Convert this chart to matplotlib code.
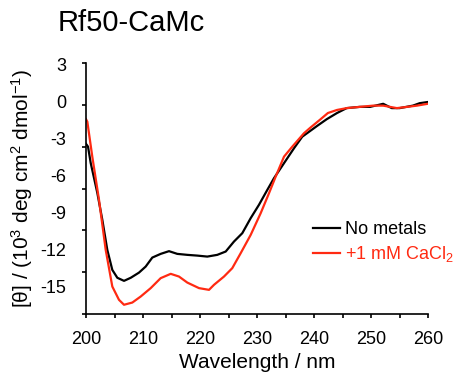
import matplotlib
matplotlib.use("Agg")
import matplotlib.pyplot as plt
import numpy as np
from matplotlib.ticker import FixedLocator, MultipleLocator, NullFormatter

plt.rcParams['font.family'] = ['Liberation Sans', 'DejaVu Sans']
plt.rcParams['mathtext.fontset'] = 'custom'
plt.rcParams['mathtext.rm'] = 'Liberation Sans'
plt.rcParams['mathtext.it'] = 'Liberation Sans'

# data (wavelength in nm, [theta] in 10^3 deg cm2 dmol-1)
wl_none = [200, 200.35, 200.82, 201.98, 202.86, 203.73, 204.61, 205.49, 206.66, 207.84,
           209.29, 210.46, 211.62, 213.09, 214.55, 216.0, 217.76, 219.51, 221.26,
           223.01, 224.49, 225.94, 227.4, 228.87, 230.32, 231.78, 232.95, 234.71,
           236.46, 237.91, 240.5, 242.2, 244, 245.7, 248, 249.8, 252.1, 253.6, 255,
           257.3, 258.5, 260]
th_none = [-3.4, -3.63, -4.95, -7.38, -9.57, -12.0, -13.63, -14.27, -14.52, -14.27,
           -13.85, -13.36, -12.63, -12.33, -12.11, -12.33, -12.41, -12.47, -12.55,
           -12.41, -12.14, -11.33, -10.65, -9.43, -8.35, -7.14, -6.19, -4.97,
           -3.76, -2.82, -1.95, -1.4, -0.9, -0.5, -0.4, -0.4, -0.15, -0.5, -0.5,
           -0.3, -0.1, 0.0]

wl_ca = [200, 200.23, 201.1, 202.28, 203.45, 204.61, 205.78, 206.66, 208.12, 209.59,
         211.34, 213.09, 214.85, 216.3, 217.76, 219.81, 221.56, 222.44, 224.19,
         225.64, 227.12, 228.87, 230.62, 232.08, 233.25, 234.71, 236.16, 238.21,
         239.3, 241, 242.4, 244, 245.7, 248, 250.3, 252.1, 253.3, 254.5, 256.3,
         258, 259.9]
th_ca = [-1.4, -1.6, -4.44, -7.95, -12.0, -14.98, -16.06, -16.46, -16.28, -15.79,
         -15.11, -14.3, -13.95, -14.17, -14.66, -15.11, -15.25, -14.84, -14.17,
         -13.49, -12.27, -10.79, -9.03, -7.41, -6.06, -4.44, -3.63, -2.54,
         -2.1, -1.45, -0.9, -0.65, -0.5, -0.4, -0.3, -0.3, -0.4, -0.5, -0.4,
         -0.3, -0.15]

ytick_vals = [3, 0, -3, -6, -9, -12, -15]
labels = ['No metals', '+1 mM CaCl$_2$']
colors = ['black', '#FF2A12']

fig = plt.figure(figsize=(4.59, 3.78), dpi=100)
ax = fig.add_axes([0.1874, 0.1693, 0.7456, 0.664])

ax.plot(wl_none, th_none, color=colors[0], lw=1.6, label=labels[0])
ax.plot(wl_ca, th_ca, color=colors[1], lw=1.6, label=labels[1])

ymin, ymax = -17.21, 3.16
ax.set_xlim(200, 260)
ax.set_ylim(ymin, ymax)

for s in ['top', 'right']:
    ax.spines[s].set_visible(False)
for s in ['left', 'bottom']:
    ax.spines[s].set_linewidth(1.2)

ax.xaxis.set_major_locator(MultipleLocator(10))
ax.xaxis.set_minor_locator(MultipleLocator(5))
ax.tick_params(axis='x', which='both', direction='out', length=3, width=1.2,
               labelsize=13, pad=9)

# tick marks evenly spaced along the axis, labels as in the original figure
ax.yaxis.set_major_locator(FixedLocator(np.linspace(ymax, ymin, 7)))
ax.yaxis.set_major_formatter(NullFormatter())
ax.yaxis.set_minor_locator(FixedLocator(ytick_vals))
ax.yaxis.set_minor_formatter(plt.FixedFormatter([str(v) for v in ytick_vals]))
ax.tick_params(axis='y', which='major', direction='out', length=3, width=1.2)
ax.tick_params(axis='y', which='minor', length=0, labelsize=13, pad=14)

ax.set_xlabel('Wavelength / nm', fontsize=15, labelpad=4)
ax.set_ylabel(r'[θ] / (10$^3$ deg cm$^2$ dmol$^{-1}$)', fontsize=15, labelpad=4)

fig.text(0.126, 0.94, 'Rf50-CaMc', fontsize=21, ha='left', va='center')

leg = ax.legend(loc='upper left', bbox_to_anchor=(0.664, 0.37), frameon=False,
                fontsize=13, handlelength=1.5, handletextpad=0.25,
                labelspacing=0.35, borderpad=0, borderaxespad=0)
for t, c in zip(leg.get_texts(), colors):
    t.set_color(c)

fig.savefig('out.png', dpi=100)
